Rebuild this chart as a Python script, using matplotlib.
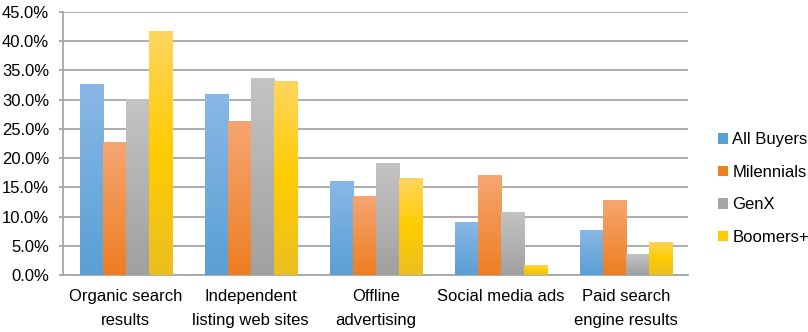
import numpy as np
import matplotlib.pyplot as plt
from matplotlib.colors import LinearSegmentedColormap
from matplotlib.ticker import FuncFormatter

categories = ["Organic search\nresults", "Independent\nlisting web sites", "Offline\nadvertising",
              "Social media ads", "Paid search\nengine results"]
series = ["All Buyers", "Milennials", "GenX", "Boomers+"]
all_buyers = [32.7, 31.0, 16.1, 9.1, 7.7]
milennials = [22.8, 26.4, 13.6, 17.1, 12.9]
genx = [30.1, 33.7, 19.2, 10.8, 3.6]
boomers = [41.7, 33.2, 16.6, 1.8, 5.7]
values = [all_buyers, milennials, genx, boomers]

# top colour, bottom colour for each series (bars are shaded)
shades = [
    ["#8ab8e6", "#5a9fd4"],
    ["#f6a673", "#ee7e22"],
    ["#c4c4c4", "#a0a0a0"],
    ["#ffd560", "#ffcc00", "#ebbf22"],
]
legend_colors = ["#5a9fd4", "#ee7e22", "#a5a5a5", "#ffcc00"]

plt.rcParams['font.family'] = ['Liberation Sans', 'DejaVu Sans']

fig = plt.figure(figsize=(8.08, 3.32), dpi=100)
ax = fig.add_axes([0.078, 0.171, 0.774, 0.793])

x = np.arange(len(categories))
width = 0.184
grad = np.linspace(0, 1, 256).reshape(-1, 1)
for i, (name, vals) in enumerate(zip(series, values)):
    pos = x + (i - 1.5) * width
    bars = ax.bar(pos, vals, width, color=legend_colors[i], label=name, zorder=3, linewidth=0)
    cmap = LinearSegmentedColormap.from_list(name, shades[i][::-1])
    for b in bars:
        x0, y0 = b.get_x(), b.get_y()
        im = ax.imshow(grad, cmap=cmap, origin='lower', aspect='auto', zorder=3,
                       extent=[x0, x0 + b.get_width(), y0, y0 + b.get_height()])
        im.set_clip_path(b)

ax.set_xlim(-0.5, len(categories) - 0.5)
ax.set_ylim(0, 45)
ax.set_yticks(np.arange(0, 46, 5))
ax.yaxis.set_major_formatter(FuncFormatter(lambda v, p: f"{v:.1f}%"))
ax.grid(axis='y', color='#a6a6a6', linewidth=1.3, zorder=0)
ax.set_axisbelow(True)

for s in ['top', 'right']:
    ax.spines[s].set_visible(False)
for s in ['left', 'bottom']:
    ax.spines[s].set_color('#a6a6a6')
    ax.spines[s].set_linewidth(1.3)

ax.tick_params(axis='y', length=3, color='#a6a6a6', width=1.3, labelsize=12, pad=7)
ax.tick_params(axis='x', length=0, pad=10)
ax.set_xticks(x)
ax.set_xticklabels(categories, fontsize=12, linespacing=1.75)

leg = ax.legend(loc='center left', bbox_to_anchor=(0.889, 0.432), bbox_transform=fig.transFigure,
                frameon=False, borderaxespad=0, borderpad=0,
                fontsize=12, handlelength=0.6, handleheight=0.6, handletextpad=0.25,
                labelspacing=1.05)

fig.savefig("out.png", dpi=100)
